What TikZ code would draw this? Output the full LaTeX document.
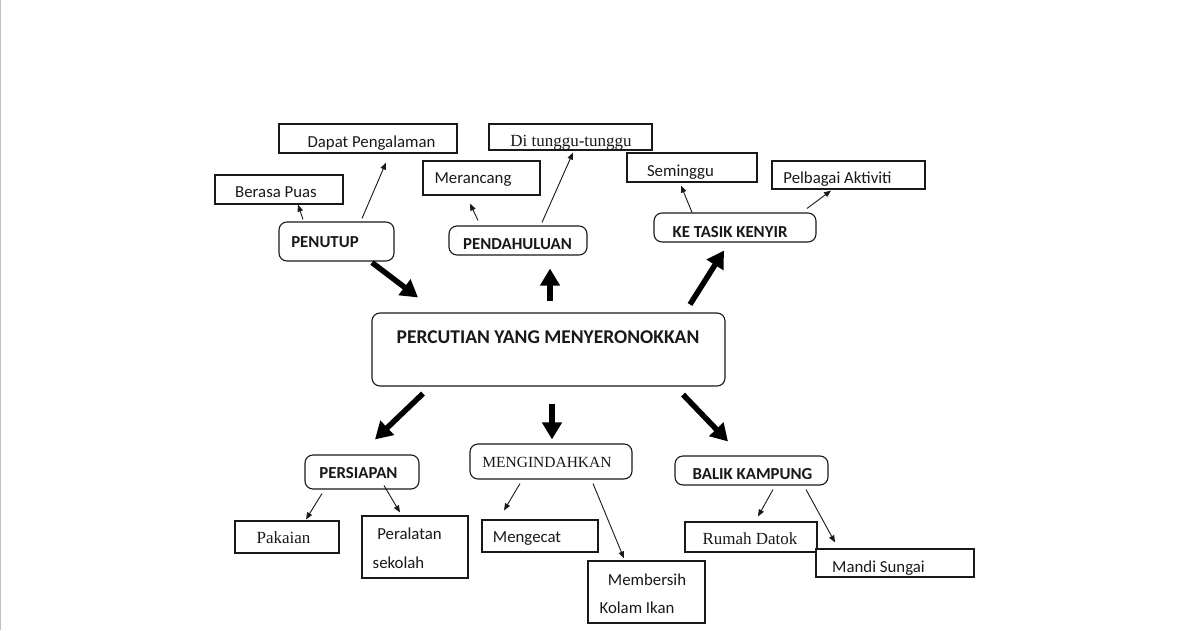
\documentclass[tikz,border=0pt]{standalone}
\usepackage{fontspec}
\setmainfont{Carlito}
\newfontfamily\serifx{Liberation Serif}
\usetikzlibrary{arrows.meta}
\begin{document}
\begin{tikzpicture}[x=1pt,y=-1pt,
  sq/.style={draw=black!90, line width=1.1pt, inner sep=0pt},
  rb/.style={sq, rounded corners=8pt},
  lab/.style={inner sep=0pt, text height=10.8pt, text depth=0pt, font=\fontsize{16.8}{20}\selectfont, text=black!90},
  blab/.style={lab, font=\fontsize{16.8}{20}\selectfont\bfseries},
  slab/.style={inner sep=0pt, text height=11.3pt, text depth=0pt, font=\fontsize{17}{20}\selectfont\serifx, text=black!90},
  tarr/.style={line width=0.9pt, black!90, -{Triangle[length=7pt,width=5.5pt]}},
  barr/.style={line width=5.5pt, black, -{Triangle[length=17pt,width=19pt]}}
]
\useasboundingbox (0,0) rectangle (1200,630);
\fill[white] (0,0) rectangle (1200,630);
\draw[line width=1.2pt, black!25] (0.6,0) -- (0.6,630);

% top left group
\node[sq, minimum width=178, minimum height=29, label={[lab,xshift=3.5,yshift=-3.5]center:Dapat Pengalaman}] (dap) at (368,138.5) {};
\node[sq, minimum width=128, minimum height=29, label={[lab,xshift=-3,yshift=-2.5]center:Berasa Puas}] (ber) at (279,189.5) {};
\node[rb, minimum width=115, minimum height=39, label={[blab,xshift=-11.5,yshift=-0.5]center:PENUTUP}] (pen) at (336.5,241.5) {};

% top middle group
\node[sq, minimum width=163, minimum height=26, label={[slab,xshift=0.5,yshift=-4]center:Di tunggu-tunggu}] (dit) at (570.5,137) {};
\node[sq, minimum width=117, minimum height=34, label={[lab,xshift=-8.5,yshift=0]center:Merancang}] (mer) at (481.5,178) {};
\node[rb, minimum width=138, minimum height=29, label={[blab,xshift=-0.5,yshift=-3.5]center:PENDAHULUAN}] (pend) at (518,240.5) {};

% top right group
\node[sq, minimum width=130, minimum height=29, label={[lab,xshift=-11.5,yshift=-3.5]center:Seminggu}] (sem) at (692,167.5) {};
\node[sq, minimum width=153, minimum height=28, label={[lab,xshift=-11,yshift=-3]center:Pelbagai Aktiviti}] (pel) at (848.5,175) {};
\node[rb, minimum width=162, minimum height=29, label={[blab,xshift=-5,yshift=-4.5]center:KE TASIK KENYIR}] (ket) at (735,227.5) {};

% main
\node[rb, minimum width=353, minimum height=73, label={[lab,font=\fontsize{19.5}{22}\selectfont\bfseries,text height=12.6pt,xshift=-0.5,yshift=12.5]center:PERCUTIAN YANG MENYERONOKKAN}] (main) at (548.5,349.5) {};

% bottom left group
\node[rb, minimum width=114, minimum height=34, label={[blab,xshift=-3.5,yshift=-1]center:PERSIAPAN}] (pers) at (362,472) {};
\node[sq, minimum width=104, minimum height=32, label={[slab,xshift=-3.5,yshift=-1]center:Pakaian}] (pak) at (287,537) {};
\node[sq, minimum width=106, minimum height=62, label={[lab,xshift=-5.5,yshift=13]center:Peralatan}, label={[lab,xshift=-16.5,yshift=-16]center:sekolah}] (peral) at (415,547) {};

% bottom middle group
\node[rb, minimum width=162, minimum height=35, label={[slab,font=\fontsize{15.5}{18}\selectfont\serifx,text height=10.3pt,xshift=-4,yshift=-0.5]center:MENGINDAHKAN}] (meng) at (551,461.5) {};
\node[sq, minimum width=116, minimum height=32, label={[lab,xshift=-13,yshift=-1]center:Mengecat}] (mcat) at (540,536) {};
\node[sq, minimum width=117, minimum height=62, label={[lab,xshift=0.5,yshift=12]center:Membersih}, label={[lab,xshift=-9.5,yshift=-16]center:Kolam Ikan}] (memb) at (646.5,592) {};

% bottom right group
\node[rb, minimum width=153, minimum height=29, label={[blab,xshift=1,yshift=-3.5]center:BALIK KAMPUNG}] (bal) at (751.5,470.5) {};
\node[sq, minimum width=132, minimum height=30, label={[slab,xshift=-1,yshift=-2]center:Rumah Datok}] (rum) at (751,537) {};
\node[sq, fill=white, minimum width=158, minimum height=28, label={[lab,xshift=-16.5,yshift=-4]center:Mandi Sungai}] (man) at (895,563) {};

% thin arrows
\draw[tarr] ([xshift=-33.5,yshift=2]pen.north) -- ([xshift=19]ber.south);
\draw[tarr] ([xshift=25.5,yshift=3]pen.north) -- ([xshift=18,yshift=-9]dap.south);
\draw[tarr] ([xshift=-40,yshift=5]pend.north) -- ([xshift=-11.5,yshift=-8]mer.south);
\draw[tarr] ([xshift=24,yshift=3]pend.north) -- ([xshift=2.5,yshift=-2]dit.south);
\draw[tarr] ([xshift=-43]ket.north) -- ([xshift=-11,yshift=-3]sem.south);
\draw[tarr] ([xshift=72,yshift=4]ket.north) -- ([xshift=-17.5,yshift=-1]pel.south);
\draw[tarr] ([xshift=-40,yshift=-4]pers.south) -- ([xshift=19,yshift=1]pak.north);
\draw[tarr] ([xshift=22,yshift=4]pers.south) -- ([xshift=-15,yshift=3]peral.north);
\draw[tarr] ([xshift=-31,yshift=-4]meng.south) -- ([xshift=-36,yshift=9]mcat.north);
\draw[tarr] ([xshift=42,yshift=-4]meng.south) -- ([xshift=-22.5,yshift=2]memb.north);
\draw[tarr] ([xshift=21.5,yshift=-4]bal.south) -- ([xshift=7,yshift=5]rum.north);
\draw[tarr] ([xshift=54.5,yshift=-4]bal.south) -- ([xshift=-60,yshift=6]man.north);

% thick arrows
\draw[barr] ([xshift=35.5,yshift=-1]pen.south) -- ([xshift=-130.5,yshift=15]main.north);
\draw[barr] ([xshift=1.5,yshift=11]main.north) -- ([xshift=32,yshift=-13]pend.south);
\draw[barr] ([xshift=141.5,yshift=8]main.north) -- ([xshift=-11,yshift=-8]ket.south);
\draw[barr] ([xshift=-125.5,yshift=-7]main.south) -- ([xshift=13,yshift=15]pers.north);
\draw[barr] ([xshift=3.5,yshift=-17]main.south) -- ([xshift=1,yshift=4]meng.north);
\draw[barr] ([xshift=134.5,yshift=-8]main.south) -- ([xshift=-23.5,yshift=14]bal.north);
\end{tikzpicture}
\end{document}
